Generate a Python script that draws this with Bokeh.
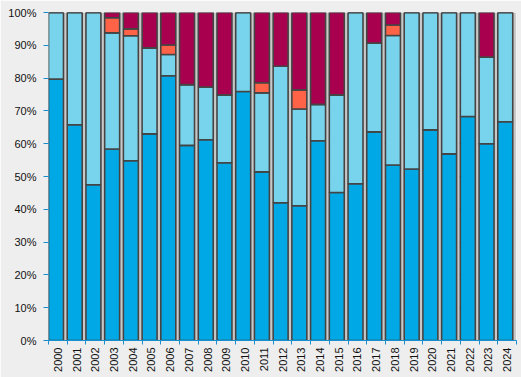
import numpy as np
from bokeh.plotting import figure
from bokeh.models import ColumnDataSource, FixedTicker, PrintfTickFormatter, Range1d
from bokeh.transform import dodge
from bokeh.embed import file_html
from bokeh.resources import INLINE

years = [str(y) for y in range(2000, 2025)]
series_a = [79.7, 65.8, 47.5, 58.4, 54.8, 63.0, 80.7, 59.5, 61.2, 54.2, 75.9, 51.4, 42.0,
            41.1, 60.9, 45.1, 47.8, 63.6, 53.5, 52.3, 64.2, 56.9, 68.3, 60.0, 66.7]
series_b = [20.3, 34.2, 52.5, 35.4, 38.1, 26.2, 6.5, 18.5, 16.1, 20.7, 24.1, 24.1, 41.6,
            29.5, 11.1, 29.8, 52.2, 27.1, 39.5, 47.7, 35.8, 43.1, 31.7, 26.4, 33.3]
series_c = [0, 0, 0, 4.6, 2.1, 0, 2.9, 0, 0, 0, 0, 3.1, 0,
            5.8, 0, 0, 0, 0, 3.2, 0, 0, 0, 0, 0, 0]
series_d = [0, 0, 0, 1.6, 5.0, 10.8, 9.9, 22.0, 22.7, 25.1, 0, 21.4, 16.4,
            23.6, 28.0, 25.1, 0, 9.3, 3.8, 0, 0, 0, 0, 13.6, 0]
y_ticks = [0, 10, 20, 30, 40, 50, 60, 70, 80, 90, 100]

n = len(years)
idx = list(range(n))
totals = [a + b + c + d for a, b, c, d in zip(series_a, series_b, series_c, series_d)]
source = ColumnDataSource(dict(idx=idx, a=series_a, b=series_b, c=series_c, d=series_d, total=totals))

BG = "#eeeeee"
BLUE_AX = "#1a8fd0"

p = figure(width=521, height=377, output_backend="svg", toolbar_location=None,
           x_range=Range1d(-0.5, n - 0.5), y_range=Range1d(0, 100),
           min_border_left=48, min_border_right=5, min_border_top=12, min_border_bottom=37)
p.background_fill_color = BG
p.border_fill_color = BG
p.outline_line_color = None

# shadows
p.vbar(x=dodge("idx", 0.07, range=p.x_range), top="total", bottom=0, width=0.8,
       source=source, fill_color="#c8c8c8", line_color=None)

p.vbar_stack(["a", "b", "c", "d"], x=dodge("idx", -0.1, range=p.x_range), width=0.8,
             source=source,
             fill_color=["#00a8e6", "#78d4ec", "#ff6347", "#a8004f"],
             line_color="#444444", line_width=1.6)

# axes
p.xaxis.ticker = FixedTicker(ticks=idx, minor_ticks=[i - 0.5 for i in range(n + 1)])
p.xaxis.major_label_overrides = {i: y for i, y in zip(idx, years)}
p.xaxis.major_label_orientation = np.pi / 2
p.xaxis.major_tick_out = 0
p.xaxis.major_tick_in = 0
p.xaxis.minor_tick_out = 4
p.xaxis.minor_tick_in = 0
p.xaxis.minor_tick_line_color = BLUE_AX
p.xaxis.axis_line_color = BLUE_AX
p.xaxis.major_label_standoff = 3

p.yaxis.ticker = FixedTicker(ticks=y_ticks)
p.yaxis.formatter = PrintfTickFormatter(format="%d%%")
p.yaxis.axis_line_color = None
p.yaxis.major_tick_out = 5
p.yaxis.major_tick_in = 0
p.yaxis.minor_tick_line_color = None
p.yaxis.major_tick_line_color = BLUE_AX
p.yaxis.major_label_standoff = 7

for ax in (p.xaxis, p.yaxis):
    ax.major_label_text_font = "Liberation Sans"
    ax.major_label_text_font_size = "11px"
    ax.major_label_text_color = "#111111"

p.xgrid.grid_line_color = None
p.ygrid.grid_line_color = BLUE_AX
p.ygrid.grid_line_dash = "2 3"
p.ygrid.grid_line_width = 1

open("out.html", "w").write(file_html(p, INLINE))
